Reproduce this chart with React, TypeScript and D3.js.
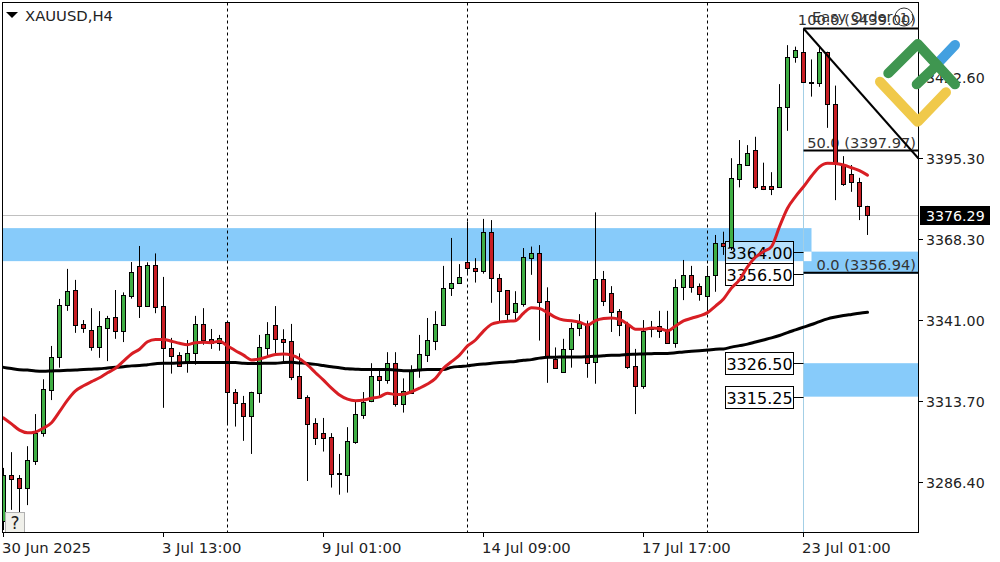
import React from "react";
import * as d3 from "d3";

// candles, [open, high, low, close]
const candles: number[][] = [
  [3273.6, 3291.3, 3270.4, 3288.9], [3288.8, 3296.6, 3277.2, 3287.7], [3287.8, 3288.9, 3276.2, 3284.7], [3284.7, 3298.6, 3278.8, 3293.9],
  [3293.7, 3309.4, 3292.3, 3303.1], [3303.0, 3321.1, 3301.8, 3317.7], [3317.6, 3332.3, 3314.1, 3328.5], [3328.5, 3348.1, 3325.0, 3346.0],
  [3346.0, 3358.2, 3344.1, 3350.7], [3351.0, 3354.5, 3336.7, 3339.4], [3339.7, 3341.0, 3336.7, 3338.4], [3337.6, 3345.0, 3330.7, 3332.0],
  [3332.0, 3344.0, 3328.3, 3338.9], [3338.4, 3342.4, 3327.2, 3341.7], [3341.9, 3351.1, 3334.7, 3337.4], [3337.4, 3350.3, 3333.6, 3349.3],
  [3349.2, 3360.5, 3348.2, 3357.0], [3359.1, 3365.9, 3341.7, 3345.8], [3345.7, 3360.4, 3345.4, 3359.4], [3359.4, 3363.4, 3343.3, 3345.5],
  [3345.6, 3355.5, 3311.5, 3331.5], [3331.5, 3335.0, 3323.0, 3329.0], [3329.2, 3330.2, 3325.3, 3325.7], [3326.5, 3334.3, 3323.3, 3329.8],
  [3329.8, 3342.4, 3326.0, 3339.6], [3339.6, 3345.0, 3332.7, 3334.4], [3334.5, 3338.0, 3331.3, 3333.3], [3333.3, 3336.0, 3330.7, 3334.9],
  [3340.2, 3340.7, 3305.7, 3316.9], [3316.7, 3317.8, 3305.2, 3313.2], [3313.0, 3315.5, 3300.4, 3308.9], [3308.9, 3316.9, 3296.0, 3316.7],
  [3316.6, 3336.0, 3313.2, 3332.0], [3331.7, 3340.3, 3328.7, 3336.2], [3339.2, 3345.7, 3329.6, 3334.7], [3334.5, 3337.9, 3326.8, 3333.7],
  [3333.9, 3339.7, 3320.8, 3322.0], [3322.1, 3329.8, 3314.6, 3314.8], [3315.0, 3315.7, 3286.9, 3306.2], [3306.3, 3308.0, 3299.0, 3301.5],
  [3303.0, 3308.1, 3296.8, 3301.5], [3301.6, 3303.0, 3284.7, 3289.4], [3289.5, 3296.0, 3282.3, 3289.2], [3289.0, 3305.0, 3283.0, 3300.2],
  [3300.1, 3314.1, 3299.4, 3309.3], [3309.2, 3316.8, 3307.8, 3313.4], [3313.7, 3326.5, 3313.4, 3322.1], [3322.1, 3324.0, 3315.2, 3321.0],
  [3321.0, 3330.2, 3319.6, 3326.5], [3326.5, 3330.2, 3311.9, 3312.7], [3312.7, 3321.4, 3309.9, 3317.3], [3316.6, 3325.8, 3316.5, 3324.0],
  [3324.4, 3336.0, 3321.6, 3329.5], [3329.4, 3341.7, 3326.9, 3334.2], [3334.1, 3344.0, 3330.9, 3339.6], [3339.4, 3359.2, 3339.2, 3351.7],
  [3351.7, 3368.6, 3349.1, 3353.4], [3353.6, 3359.8, 3353.4, 3355.4], [3360.4, 3374.0, 3356.1, 3358.4], [3358.5, 3361.8, 3353.6, 3357.6],
  [3357.6, 3375.0, 3356.6, 3370.5], [3370.5, 3374.6, 3346.8, 3355.0], [3355.0, 3356.5, 3340.4, 3350.9], [3351.0, 3351.1, 3341.0, 3343.1],
  [3343.8, 3350.7, 3340.8, 3346.6], [3346.5, 3365.2, 3345.5, 3362.1], [3362.0, 3365.7, 3356.2, 3363.4], [3363.4, 3366.2, 3334.1, 3347.2],
  [3347.3, 3352.0, 3319.9, 3328.7], [3327.8, 3331.8, 3324.6, 3324.8], [3323.6, 3334.7, 3323.5, 3331.2], [3331.2, 3340.1, 3325.0, 3338.2],
  [3338.2, 3343.0, 3335.6, 3339.9], [3339.6, 3340.8, 3321.6, 3326.7], [3326.8, 3377.2, 3319.6, 3354.7], [3354.7, 3357.5, 3345.7, 3347.5],
  [3350.0, 3352.4, 3337.0, 3343.8], [3343.9, 3344.7, 3335.6, 3339.4], [3339.6, 3340.4, 3324.6, 3325.3], [3325.5, 3331.3, 3309.4, 3318.9],
  [3318.9, 3341.0, 3317.9, 3337.4], [3338.8, 3340.7, 3335.2, 3337.9], [3339.1, 3344.1, 3335.0, 3337.4], [3337.7, 3344.1, 3333.2, 3333.4],
  [3333.4, 3354.7, 3331.7, 3352.0], [3352.2, 3361.2, 3347.7, 3356.2], [3356.2, 3359.2, 3350.2, 3352.2], [3352.3, 3353.3, 3347.5, 3349.7],
  [3349.2, 3359.2, 3343.3, 3355.9], [3356.0, 3369.6, 3350.5, 3366.8], [3366.8, 3370.7, 3362.9, 3366.0], [3365.7, 3395.4, 3364.5, 3388.6],
  [3388.3, 3401.5, 3385.6, 3393.3], [3393.2, 3399.8, 3392.9, 3397.0], [3398.1, 3402.6, 3385.0, 3385.8], [3386.0, 3393.9, 3384.7, 3385.2],
  [3386.0, 3390.7, 3383.0, 3385.2], [3385.8, 3420.3, 3385.8, 3412.5], [3412.5, 3433.4, 3404.6, 3429.3], [3429.3, 3432.9, 3427.5, 3431.7],
  [3431.2, 3439.0, 3420.9, 3420.9], [3420.9, 3428.6, 3416.1, 3420.6], [3420.6, 3432.9, 3419.4, 3431.0], [3431.0, 3431.2, 3405.6, 3413.5],
  [3413.5, 3419.8, 3381.3, 3393.7], [3393.1, 3396.1, 3386.1, 3386.8], [3390.0, 3393.1, 3384.1, 3387.5], [3387.5, 3388.8, 3374.6, 3379.4],
  [3379.4, 3379.4, 3369.6, 3376.29],
];

// fast moving average (red)
const maFast = [
  3308.1, 3306.1, 3304.0, 3303.1, 3303.4, 3304.7, 3306.5, 3310.2, 3314.1, 3317.2,
  3318.9, 3320.3, 3321.6, 3323.3, 3324.8, 3327.2, 3329.6, 3331.2, 3333.7, 3334.5,
  3334.5, 3333.9, 3333.2, 3332.7, 3333.4, 3333.5, 3333.4, 3333.9, 3332.3, 3330.7,
  3329.2, 3327.6, 3327.9, 3328.7, 3329.4, 3329.6, 3329.2, 3328.0, 3325.9, 3323.3,
  3320.8, 3318.1, 3315.8, 3314.4, 3313.9, 3314.1, 3314.7, 3315.2, 3316.4, 3316.0,
  3316.1, 3316.9, 3318.1, 3319.5, 3321.4, 3324.8, 3327.0, 3329.2, 3332.3, 3334.3,
  3337.3, 3339.6, 3340.3, 3340.6, 3340.8, 3343.3, 3345.1, 3344.9, 3343.5, 3341.9,
  3341.0, 3340.8, 3340.3, 3339.3, 3340.8, 3341.5, 3341.7, 3341.2, 3339.7, 3337.9,
  3337.9, 3338.3, 3338.2, 3337.4, 3339.0, 3340.7, 3341.6, 3342.4, 3343.5, 3345.7,
  3348.1, 3351.8, 3354.5, 3358.9, 3362.1, 3364.0, 3365.7, 3372.4, 3378.6, 3382.5,
  3385.8, 3389.4, 3392.5, 3393.7, 3393.6, 3393.1, 3392.2, 3391.2, 3389.7,
];

// slow moving average (black)
const maSlow = [
  3325.1, 3324.7, 3324.3, 3324.2, 3323.9, 3323.8, 3323.9, 3324.0, 3324.1, 3324.2,
  3324.4, 3324.5, 3324.6, 3324.9, 3325.1, 3325.3, 3325.6, 3325.7, 3326.0, 3326.3,
  3326.5, 3326.5, 3326.6, 3326.7, 3326.7, 3326.7, 3326.7, 3326.7, 3326.7, 3326.7,
  3326.5, 3326.4, 3326.4, 3326.5, 3326.5, 3326.7, 3326.8, 3326.6, 3326.4, 3326.1,
  3325.7, 3325.3, 3325.0, 3324.6, 3324.5, 3324.4, 3324.4, 3324.4, 3324.4, 3324.2,
  3324.0, 3324.0, 3324.2, 3324.4, 3324.4, 3324.4, 3325.1, 3325.4, 3325.6, 3326.0,
  3326.2, 3326.5, 3326.7, 3326.9, 3327.1, 3327.5, 3327.7, 3328.2, 3328.5, 3328.5,
  3328.6, 3328.6, 3328.6, 3328.7, 3328.8, 3329.0, 3329.2, 3329.2, 3329.4, 3329.5,
  3329.6, 3329.7, 3329.8, 3329.8, 3330.0, 3330.3, 3330.5, 3330.7, 3330.9, 3331.2,
  3331.3, 3331.9, 3332.4, 3332.9, 3333.6, 3334.3, 3335.0, 3335.8, 3336.8, 3337.7,
  3338.6, 3339.5, 3340.5, 3341.4, 3342.0, 3342.5, 3342.9, 3343.3, 3343.6,
];

const priceTicks = [3422.6, 3395.3, 3368.3, 3341.0, 3313.7, 3286.4];
const timeTicks = ["30 Jun 2025", "3 Jul 13:00", "9 Jul 01:00", "14 Jul 09:00", "17 Jul 17:00", "23 Jul 01:00"];
const timeTickIdx = [0, 20, 40, 60, 80, 100];
const sessionIdx = [28, 58, 88]; // dashed separators
const fibLevels = [
  { label: "100.0 (3439.00)", price: 3439.0 },
  { label: "50.0 (3397.97)", price: 3397.97 },
  { label: "0.0 (3356.94)", price: 3356.94 },
];
const zoneBoxes = [
  { from: -1, to: 101, top: 3371.9, bottom: 3360.8 },
  { from: 100, to: 115, top: 3364.0, bottom: 3356.5 },
  { from: 100, to: 115, top: 3326.5, bottom: 3315.25 },
];
const zoneLabels = [3364.0, 3356.5, 3326.5, 3315.25];
const lastPrice = 3376.29;

const W = 1000;
const H = 562;
const plot = { left: 2.5, right: 918.5, top: 2.5, bottom: 532.5 };
const FONT = "'DejaVu Sans', sans-serif";
const ZONE = "#87cbfa";
const UP = "#3fae44";
const DOWN = "#c81e24";

const App: React.FC = () => {
  const x = d3.scaleLinear().domain([0, 108]).range([3.5, 867.5]);
  const y = d3.scaleLinear().domain([3286.4, 3395.3]).range([482.5, 158.5]);
  const xEnd = x.invert(plot.right);

  const lineOf = d3
    .line<number>()
    .x((_, i) => x(i))
    .y((d) => y(d))
    .curve(d3.curveMonotoneX);

  // where two zones overlap the terminal inverts the fill, so it shows white
  const [a, b] = zoneBoxes;

  return (
    <svg
      width={W}
      height={H}
      style={{ position: "absolute", left: 0, top: 0, background: "#fff" }}
      fontFamily={FONT}
    >
      <defs>
        <clipPath id="plotArea">
          <rect x={plot.left} y={plot.top} width={plot.right - plot.left} height={plot.bottom - plot.top} />
        </clipPath>
      </defs>

      <g clipPath="url(#plotArea)">
        {/* zones */}
        {zoneBoxes.map((z, i) => (
          <rect key={i} x={x(z.from)} y={y(z.top)} width={x(z.to) - x(z.from)} height={y(z.bottom) - y(z.top)} fill={ZONE} />
        ))}
        <rect x={x(b.from)} y={y(b.top)} width={x(a.to) - x(b.from)} height={y(a.bottom) - y(b.top)} fill="#fff" />

        {/* session separators */}
        {sessionIdx.map((i) => (
          <line key={i} x1={x(i)} x2={x(i)} y1={plot.top} y2={plot.bottom} stroke="#000" strokeDasharray="3 3" />
        ))}

        {/* last price line */}
        <line x1={plot.left} x2={plot.right} y1={Math.round(y(lastPrice)) + 0.5} y2={Math.round(y(lastPrice)) + 0.5} stroke="#c0c0c0" />

        {/* fibo vertical + levels */}
        <line x1={x(100)} x2={x(100)} y1={y(3439)} y2={plot.bottom} stroke="#a3cfe6" />
        {fibLevels.map((f) => (
          <g key={f.label}>
            <line x1={x(100)} x2={plot.right} y1={y(f.price)} y2={y(f.price)} stroke="#000" strokeWidth={2} />
            <text x={916} y={y(f.price) - 3} textAnchor="end" fontSize={14.6} fill="#333">
              {f.label}
            </text>
          </g>
        ))}
        <text x={812} y={22} fontSize={14.6} fill="#333">Easy Order</text>
        <circle cx={904} cy={17} r={9} fill="none" stroke="#333" />
        <text x={904} y={22} textAnchor="middle" fontSize={13} fill="#333">1</text>

        {/* zone price tags */}
        {zoneLabels.map((p) => (
          <g key={p}>
            <line x1={794} x2={x(100)} y1={Math.round(y(p)) + 0.5} y2={Math.round(y(p)) + 0.5} stroke="#000" />
            <rect x={725.5} y={Math.round(y(p)) - 10.5} width={68} height={22} fill="#fff" fillOpacity={p === 3364 ? 0.4 : 1} stroke="#000" />
            <text x={759.5} y={Math.round(y(p)) + 6.5} textAnchor="middle" fontSize={16} fill="#000">
              {p.toFixed(2)}
            </text>
          </g>
        ))}

        {/* candles */}
        {candles.map(([o, h, l, c], i) => {
          const top = Math.round(y(Math.max(o, c)));
          const bottom = Math.round(y(Math.min(o, c)));
          return (
            <g key={i}>
              <line x1={x(i)} x2={x(i)} y1={y(h)} y2={y(l)} stroke="#000" />
              <rect
                x={x(i) - 2}
                y={top + 0.5}
                width={4}
                height={Math.max(bottom - top, 1)}
                fill={c >= o ? UP : DOWN}
                stroke="#000"
              />
            </g>
          );
        })}

        {/* moving averages */}
        <path d={lineOf(maSlow) ?? ""} fill="none" stroke="#000" strokeWidth={3} strokeLinecap="round" />
        <path d={lineOf(maFast) ?? ""} fill="none" stroke="#d81e24" strokeWidth={3} strokeLinecap="round" />

        {/* fibo trend line */}
        <line x1={x(100)} y1={y(3439)} x2={x(xEnd)} y2={y(3395.3)} stroke="#000" strokeWidth={2} />

        {/* help button */}
        <rect x={5.5} y={512.5} width={19} height={20} fill="#f0f0ea" stroke="#b0b0b0" />
        <text x={15} y={529} textAnchor="middle" fontSize={17} fill="#222">?</text>
      </g>

      {/* frame */}
      <rect x={plot.left} y={plot.top} width={plot.right - plot.left} height={plot.bottom - plot.top} fill="none" stroke="#000" />

      {/* symbol */}
      <path d="M6 12 L18 12 L12 18 Z" fill="#000" />
      <text x={25} y={21} fontSize={14.8} fill="#222">XAUUSD,H4</text>

      {/* price axis */}
      {priceTicks.map((p, i) => {
        const py = [77.5, 158.5, 239.5, 320.5, 401.5, 482.5][i];
        return (
          <g key={p}>
            <line x1={plot.right} x2={923} y1={py} y2={py} stroke="#000" />
            <text x={926} y={py + 5} fontSize={14.2} fill="#222">{p.toFixed(2)}</text>
          </g>
        );
      })}
      <rect x={920} y={206} width={70} height={19} fill="#000" />
      <text x={926} y={221} fontSize={14.2} fill="#fff">{lastPrice.toFixed(2)}</text>

      {/* time axis */}
      {timeTicks.map((t, i) => (
        <g key={t}>
          <line x1={x(timeTickIdx[i])} x2={x(timeTickIdx[i])} y1={plot.bottom} y2={537} stroke="#000" />
          <text x={x(timeTickIdx[i]) - 1.5} y={553} fontSize={14.8} fill="#222">{t}</text>
        </g>
      ))}

      {/* broker logo */}
      <g fill="none" strokeWidth={10} strokeLinecap="round" strokeLinejoin="round">
        <path d="M938 63 L955 45" stroke="#43a0e0" />
        <path d="M880 81.7 L917.7 121.7 L946 92.3" stroke="#f0c94a" />
        <path d="M888.3 73.3 L917.7 44 L955 84.3" stroke="#3f9650" />
        <path d="M916.7 84.3 L937 65" stroke="#3f9650" />
      </g>
    </svg>
  );
};

export default App;
